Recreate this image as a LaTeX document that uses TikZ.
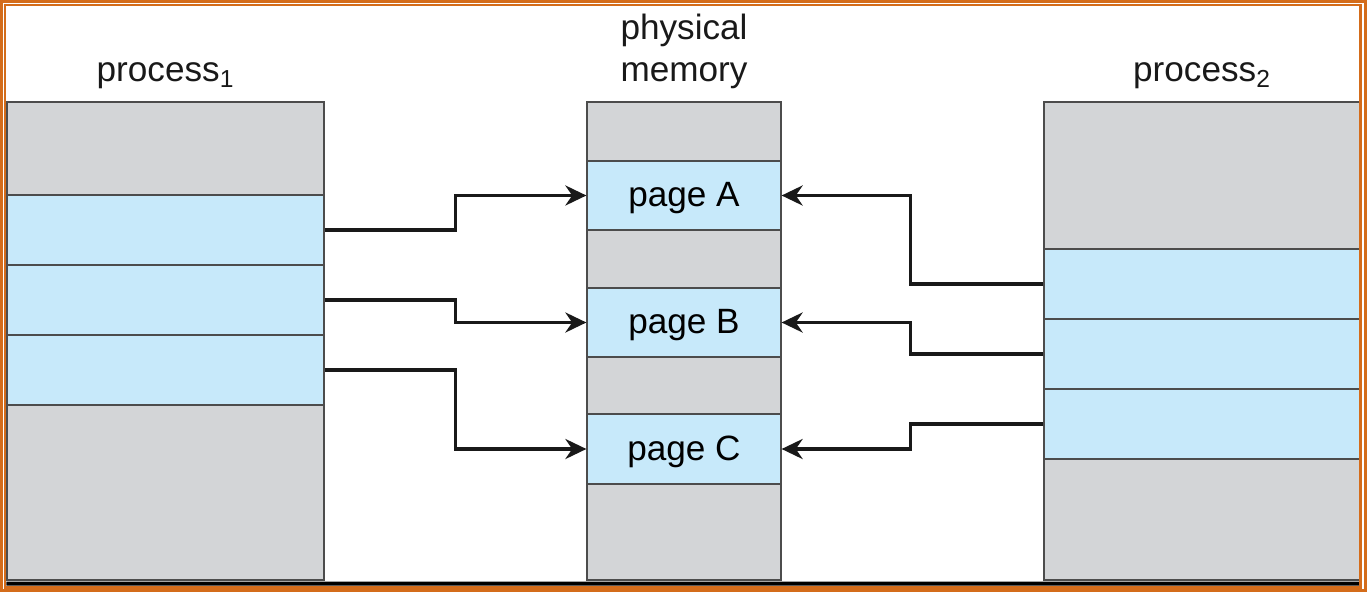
\documentclass[tikz,border=0pt]{standalone}
\usepackage{fontspec}
\setmainfont{Liberation Sans}
\usepackage{tikz}
\usetikzlibrary{arrows.meta, positioning}
\definecolor{memgray}{RGB}{211,213,215}
\definecolor{memblue}{RGB}{199,233,250}
\definecolor{frameorange}{RGB}{212,108,26}
\tikzset{
    seg_gray/.style={
        rectangle, draw=black!70, line width=0.7pt, fill=memgray,
        inner sep=0pt, font=\fontsize{20}{24}\selectfont,
        text height=0.45cm, text depth=0pt
    },
    seg_blue/.style={
        rectangle, draw=black!70, line width=0.7pt, fill=memblue,
        inner sep=0pt, font=\fontsize{20}{24}\selectfont,
        text height=0.45cm, text depth=0pt
    },
    map_arrow/.style={
        -{Stealth[length=0.42cm, width=0.4cm]}, line width=2pt, draw=black!90
    },
    lbl/.style={
        font=\fontsize{20}{24}\selectfont, text=black!90, align=center
    },
    frame_line/.style={
        draw=frameorange, line width=0.045cm
    }
}

\begin{document}
\begin{tikzpicture}
    \useasboundingbox (0,0) rectangle (27.34,-11.84);

    % process 1
    \node[seg_gray, minimum width=6.34cm, minimum height=1.86cm] (p1top) at (3.31,-2.97) {};
    \node[seg_blue, minimum width=6.34cm, minimum height=1.40cm] (p1a) at (3.31,-4.60) {};
    \node[seg_blue, minimum width=6.34cm, minimum height=1.40cm] (p1b) at (3.31,-6.00) {};
    \node[seg_blue, minimum width=6.34cm, minimum height=1.40cm] (p1c) at (3.31,-7.40) {};
    \node[seg_gray, minimum width=6.34cm, minimum height=3.50cm] (p1bot) at (3.31,-9.85) {};

    % physical memory
    \node[seg_gray, minimum width=3.88cm, minimum height=1.18cm] (m1) at (13.68,-2.63) {};
    \node[seg_blue, minimum width=3.88cm, minimum height=1.38cm] (pageA) at (13.68,-3.91) {page A};
    \node[seg_gray, minimum width=3.88cm, minimum height=1.16cm] (m2) at (13.68,-5.18) {};
    \node[seg_blue, minimum width=3.88cm, minimum height=1.38cm] (pageB) at (13.68,-6.45) {page B};
    \node[seg_gray, minimum width=3.88cm, minimum height=1.14cm] (m3) at (13.68,-7.71) {};
    \node[seg_blue, minimum width=3.88cm, minimum height=1.40cm] (pageC) at (13.68,-8.98) {page C};
    \node[seg_gray, minimum width=3.88cm, minimum height=1.92cm] (m4) at (13.68,-10.64) {};

    % process 2
    \node[seg_gray, minimum width=6.32cm, minimum height=2.94cm] (p2top) at (24.04,-3.51) {};
    \node[seg_blue, minimum width=6.32cm, minimum height=1.40cm] (p2a) at (24.04,-5.68) {};
    \node[seg_blue, minimum width=6.32cm, minimum height=1.40cm] (p2b) at (24.04,-7.08) {};
    \node[seg_blue, minimum width=6.32cm, minimum height=1.40cm] (p2c) at (24.04,-8.48) {};
    \node[seg_gray, minimum width=6.32cm, minimum height=2.42cm] (p2bot) at (24.04,-10.39) {};

    % labels
    \node[lbl, anchor=base] (lp1) at (3.31,-1.64) {process\textsubscript{1}};
    \node[lbl, anchor=base] (lp2) at (24.04,-1.64) {process\textsubscript{2}};
    \node[lbl] (lmem) at (13.68,-1.03) {physical\\memory};

    % mappings
    \draw[map_arrow] (p1a.east) -- ++(2.62,0) |- (pageA.west);
    \draw[map_arrow] (p1b.east) -- ++(2.62,0) |- (pageB.west);
    \draw[map_arrow] (p1c.east) -- ++(2.62,0) |- (pageC.west);
    \draw[map_arrow] (p2a.west) -- ++(-2.66,0) |- (pageA.east);
    \draw[map_arrow] (p2b.west) -- ++(-2.66,0) |- (pageB.east);
    \draw[map_arrow] (p2c.west) -- ++(-2.66,0) |- (pageC.east);

    % base line and frame
    \draw[line width=0.08cm] ([yshift=-0.06cm]p1bot.south west) -- ([yshift=-0.06cm]p2bot.south east);
    \draw[frame_line] (0.03,-0.03) rectangle (27.31,-11.81);
    \draw[frame_line] (0.10,-0.10) rectangle (27.21,-11.75);
\end{tikzpicture}
\end{document}
